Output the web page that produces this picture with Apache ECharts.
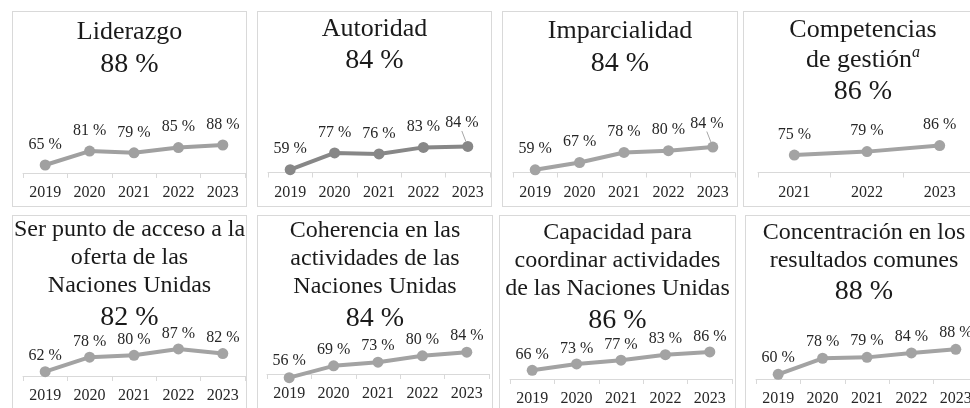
<!DOCTYPE html>
<html>
<head>
<meta charset="utf-8">
<script src="https://cdn.jsdelivr.net/npm/echarts@6/dist/echarts.min.js"></script>
<style>
html, body { margin: 0; padding: 0; background: #fff; width: 970px; height: 408px; overflow: hidden; }
.panel { position: absolute; box-sizing: border-box; border: 1px solid #d9d9d9; background: #fff; }
.panel > div { position: absolute; left: 0; top: 0; }
</style>
</head>
<body>
<script>
// ── 数据 ──
const years5 = ['2019', '2020', '2021', '2022', '2023'];
const years3 = ['2021', '2022', '2023'];

const names = [
  'Liderazgo',
  'Autoridad',
  'Imparcialidad',
  'Competencias\nde gestión{sup|a}',
  'Ser punto de acceso a la\noferta de las\nNaciones Unidas',
  'Coherencia en las\nactividades de las\nNaciones Unidas',
  'Capacidad para\ncoordinar actividades\nde las Naciones Unidas',
  'Concentración en los\nresultados comunes'
];
const totals = ['88 %', '84 %', '84 %', '86 %', '82 %', '84 %', '86 %', '88 %'];

const liderazgo = [65, 81, 79, 85, 88];
const autoridad = [59, 77, 76, 83, 84];
const imparcialidad = [59, 67, 78, 80, 84];
const competencias = [75, 79, 86];
const puntoAcceso = [62, 78, 80, 87, 82];
const coherencia = [56, 69, 73, 80, 84];
const coordinacion = [66, 73, 77, 83, 86];
const resultados = [60, 78, 79, 84, 88];

const seriesValues = [liderazgo, autoridad, imparcialidad, competencias, puntoAcceso, coherencia, coordinacion, resultados];
const seriesCats = [years5, years5, years5, years3, years5, years5, years5, years5];

// ── 版式 ──
const FONT = "'Liberation Serif', 'Times New Roman', serif";
// 面板 [left, top, width, height]
const boxes = [
  [12, 11, 235, 196], [257, 11, 235, 196], [502, 11, 236, 196], [743, 11, 240, 196],
  [12, 215, 235, 200], [257, 215, 236, 200], [499, 215, 237, 200], [745, 215, 238, 200]
];
// 坐标区 [gridLeft, gridWidth, axisY, yMin, pxPerUnit]
const grids = [
  [10, 222, 161, 55.8, 0.87], [10, 222, 160.5, 56, 0.93], [10, 222, 160.5, 56, 0.91], [14, 218, 160.5, 55, 0.87],
  [10, 222, 160, 57.3, 0.91], [9, 222, 158, 60, 0.91], [10, 222, 163, 56.6, 0.92], [10, 222, 163, 54.7, 0.89]
];
// 标题 [nameTop, lineHeight, fontSize, pctTop]
const titles = [
  [5, 30, 26, 37], [2, 30, 26, 33], [4, 30, 26, 36], [3, 30, 26, 64],
  [0, 28, 24, 86], [1, 28, 24, 87], [3, 28, 24, 89], [3, 28, 24, 60]
];
const lineColors = ['#a0a0a0', '#878787', '#a3a3a3', '#a3a3a3', '#a3a3a3', '#a3a3a3', '#a3a3a3', '#a3a3a3'];
const labelDist = [7, 7, 7, 7, 2, 3, 2, 3];
const leader = [false, true, true, false, false, false, false, false];

// ── 渲染 ──
const charts = [];
boxes.forEach((b, i) => {
  const panel = document.createElement('div');
  panel.className = 'panel';
  panel.style.cssText = `left:${b[0]}px;top:${b[1]}px;width:${b[2]}px;height:${b[3]}px;`;
  const inner = document.createElement('div');
  inner.style.width = (b[2] - 2) + 'px';
  inner.style.height = (b[3] - 2) + 'px';
  panel.appendChild(inner);
  document.body.appendChild(panel);

  const g = grids[i], t = titles[i];
  const h = (100 - g[3]) * g[4];
  const vals = seriesValues[i];
  const last = vals.length - 1;
  // 最后一点的标签带引导线（Autoridad / Imparcialidad）
  const data = vals.map((v, k) => (leader[i] && k === last)
    ? { value: v, labelLine: { show: true, lineStyle: { color: '#a6a6a6', width: 1 } } }
    : v);

  const chart = echarts.init(inner, null, { renderer: 'canvas' });
  chart.setOption({
    animation: false,
    title: [
      { text: names[i], left: 'center', top: t[0], padding: 0,
        textStyle: { fontFamily: FONT, fontSize: t[2], fontWeight: 'normal', color: '#1a1a1a', lineHeight: t[1],
          rich: { sup: { fontFamily: FONT, fontSize: 16, fontStyle: 'italic', color: '#1a1a1a', verticalAlign: 'top', lineHeight: 22 } } } },
      { text: totals[i], left: 'center', top: t[3], padding: 0,
        textStyle: { fontFamily: FONT, fontSize: 28, fontWeight: 'normal', color: '#1a1a1a', lineHeight: 32 } }
    ],
    grid: { left: g[0], width: g[1], top: g[2] - h, height: h },
    xAxis: {
      type: 'category', data: seriesCats[i], boundaryGap: true,
      axisLine: { lineStyle: { color: '#d9d9d9', width: 1 } },
      axisTick: { show: true, length: 5, lineStyle: { color: '#d9d9d9' } },
      axisLabel: { fontFamily: FONT, fontSize: 16, color: '#262626', margin: 12 }
    },
    yAxis: { type: 'value', min: g[3], max: 100, show: false, splitLine: { show: false } },
    series: [{
      type: 'line', data: data, clip: false,
      symbol: 'circle', symbolSize: 11,
      itemStyle: { color: lineColors[i] },
      lineStyle: { color: lineColors[i], width: 4 },
      label: { show: true, position: 'top', distance: labelDist[i], formatter: '{c} %',
        fontFamily: FONT, fontSize: 16, color: '#262626' },
      labelLine: { show: false },
      labelLayout: p => (leader[i] && p.dataIndex === last) ? { dx: -6, dy: -3 } : {}
    }]
  });
  charts.push(chart);
});
</script>
</body>
</html>
